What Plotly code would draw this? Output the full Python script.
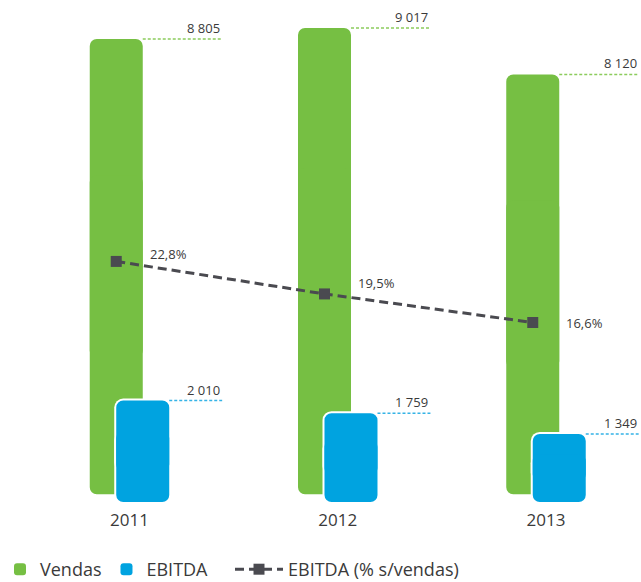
import plotly.graph_objects as go

# ---- data ----
years = [2011, 2012, 2013]
year_labels = ["2011", "2012", "2013"]
vendas = [8805, 9017, 8120]
ebitda = [2010, 1759, 1349]
ebitda_pct = [22.8, 19.5, 16.6]
vendas_labels = ["8 805", "9 017", "8 120"]
ebitda_labels = ["2 010", "1 759", "1 349"]
pct_labels = ["22,8%", "19,5%", "16,6%"]

# ---- style ----
GREEN = "#76bf43"
BLUE = "#00a3e0"
GREEN_LEAD = "#8ccc5c"
BLUE_LEAD = "#35b3e6"
LINE_C = "#4a4a50"
TEXT_C = "#3a3a3a"
FONT = "Open Sans"

W, H = 641, 582
M_T, M_B = 0, 76
PLOT_H = H - M_T - M_B
X_RANGE = [2010.3782, 2013.4562]
PX_PER_X = W / (X_RANGE[1] - X_RANGE[0])
Y1_RANGE = [-228, 9559]
Y2_RANGE = [-2.03, 49.34]
Y3_RANGE = [-79.2, 9941]

BAR_W = 0.2545
SHIFT = 0.0636
LEAD_END = 0.445
RADIUS = 7
HALO_PX = 2

g_off = -SHIFT - BAR_W / 2
b_off = SHIFT - BAR_W / 2
g_right = -SHIFT + BAR_W / 2
b_right = SHIFT + BAR_W / 2

halo_x = HALO_PX / PX_PER_X
halo_y = HALO_PX * (Y3_RANGE[1] - Y3_RANGE[0]) / PLOT_H

fig = go.Figure()


def rounded_bar(vals, color, offset, width, yaxis, radius, pad=0.0, name=None, legend=False):
    """Bar rounded at both ends, built from two overlapping pieces."""
    up_base = [0.3 * v for v in vals]
    up_len = [0.7 * v + pad for v in vals]
    lo_base = [0.7 * v for v in vals]
    lo_len = [-(0.7 * v + pad) for v in vals]
    common = dict(x=years, width=[width] * len(years), offset=[offset] * len(years),
                  yaxis=yaxis, hoverinfo="skip")
    fig.add_trace(go.Bar(y=up_len, base=up_base, name=name, showlegend=legend,
                         marker=dict(color=color, cornerradius=radius, line=dict(width=0)),
                         legendgroup=name, **common))
    fig.add_trace(go.Bar(y=lo_len, base=lo_base, showlegend=False,
                         marker=dict(color=color, cornerradius=radius, line=dict(width=0)),
                         legendgroup=name, **common))


# green bars
rounded_bar(vendas, GREEN, g_off, BAR_W, "y", RADIUS, name="Vendas", legend=True)
# white halo behind blue bars
rounded_bar(ebitda, "white", b_off - halo_x, BAR_W + 2 * halo_x, "y3", RADIUS + HALO_PX, pad=halo_y)
# blue bars
rounded_bar(ebitda, BLUE, b_off, BAR_W, "y3", RADIUS, name="EBITDA", legend=True)

# leader lines
gx, gy, bx, by = [], [], [], []
for yr, v, e in zip(years, vendas, ebitda):
    gx += [yr + g_right, yr + LEAD_END, None]
    gy += [v, v, None]
    bx += [yr + b_right, yr + LEAD_END, None]
    by += [e, e, None]
fig.add_trace(go.Scatter(x=gx, y=gy, mode="lines", yaxis="y", showlegend=False, hoverinfo="skip",
                         line=dict(color=GREEN_LEAD, width=1.5, dash="3px,2px")))
fig.add_trace(go.Scatter(x=bx, y=by, mode="lines", yaxis="y3", showlegend=False, hoverinfo="skip",
                         line=dict(color=BLUE_LEAD, width=1.5, dash="3px,2px")))

# EBITDA % line
fig.add_trace(go.Scatter(x=[yr - SHIFT for yr in years], y=ebitda_pct, yaxis="y2",
                         mode="lines+markers", name="EBITDA (% s/vendas)", legend="legend2",
                         line=dict(color=LINE_C, width=3, dash="9px,5px"),
                         marker=dict(symbol="square", size=11, color=LINE_C)))

annotations = []
for yr, v, t in zip(years, vendas, vendas_labels):
    annotations.append(dict(x=yr + LEAD_END, y=v, xref="x", yref="y", text=t, showarrow=False,
                            xanchor="right", yanchor="bottom", yshift=0,
                            font=dict(family=FONT, size=13, color=TEXT_C)))
for yr, v, t in zip(years, ebitda, ebitda_labels):
    annotations.append(dict(x=yr + LEAD_END, y=v, xref="x", yref="y3", text=t, showarrow=False,
                            xanchor="right", yanchor="bottom", yshift=0,
                            font=dict(family=FONT, size=13, color=TEXT_C)))
pct_yshift = [7, 11, -1]
for yr, v, t, ys in zip(years, ebitda_pct, pct_labels, pct_yshift):
    annotations.append(dict(x=yr + g_right, y=v, xref="x", yref="y2", text=t, showarrow=False,
                            xanchor="left", yanchor="middle", xshift=5, yshift=ys,
                            font=dict(family=FONT, size=13, color=TEXT_C)))

legend_font = dict(family=FONT, size=18, color=TEXT_C)
LEG_Y = 1 - 551 / H
fig.update_layout(
    width=W, height=H,
    margin=dict(l=0, r=0, t=M_T, b=M_B, autoexpand=False),
    paper_bgcolor="white", plot_bgcolor="white",
    barmode="overlay",
    font=dict(family=FONT, color=TEXT_C),
    xaxis=dict(range=X_RANGE, tickvals=years, ticktext=year_labels, showgrid=False,
               zeroline=False, showline=False, ticks="", ticklabelstandoff=2,
               tickfont=dict(family=FONT, size=17, color=TEXT_C)),
    yaxis=dict(range=Y1_RANGE, visible=False),
    yaxis2=dict(range=Y2_RANGE, overlaying="y", visible=False),
    yaxis3=dict(range=Y3_RANGE, overlaying="y", visible=False),
    legend=dict(orientation="h", xref="container", yref="container",
                x=0, xanchor="left", y=LEG_Y, yanchor="top",
                font=legend_font, bgcolor="rgba(0,0,0,0)"),
    legend2=dict(orientation="h", xref="container", yref="container",
                 x=230 / W, xanchor="left", y=LEG_Y, yanchor="top", itemwidth=48,
                 font=legend_font, bgcolor="rgba(0,0,0,0)"),
    annotations=annotations,
    showlegend=True,
)

# remove the browser's default 8px body margin so the figure fills the window
fig.write_html("out.html", config={"displayModeBar": False},
               post_script="document.body.style.margin='0';document.body.style.overflow='hidden';")
